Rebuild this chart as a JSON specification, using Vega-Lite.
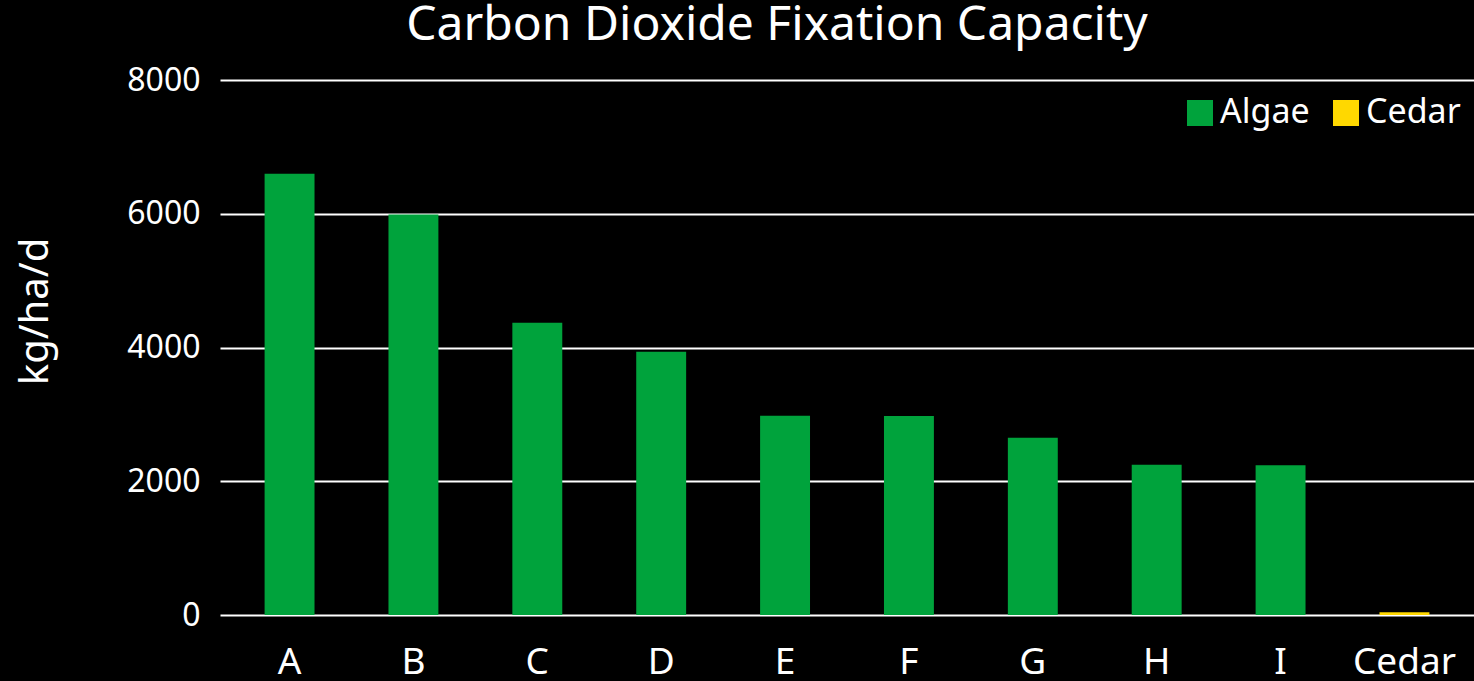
{
  "$schema": "https://vega.github.io/schema/vega-lite/v6.json",
  "width": 1254,
  "height": 535,
  "autosize": {"type": "none"},
  "padding": {"left": 220, "top": 80, "right": 0, "bottom": 66},
  "background": "#000000",
  "title": {
    "text": "Carbon Dioxide Fixation Capacity",
    "font": "Noto Sans",
    "fontSize": 48,
    "fontWeight": "normal",
    "color": "#ffffff",
    "anchor": "middle",
    "frame": "group",
    "dx": -70,
    "offset": 14
  },
  "data": {
    "values": [
      {"name": "A", "type": "Algae", "value": 6600},
      {"name": "B", "type": "Algae", "value": 5990},
      {"name": "C", "type": "Algae", "value": 4370},
      {"name": "D", "type": "Algae", "value": 3935},
      {"name": "E", "type": "Algae", "value": 2980},
      {"name": "F", "type": "Algae", "value": 2975},
      {"name": "G", "type": "Algae", "value": 2650},
      {"name": "H", "type": "Algae", "value": 2245},
      {"name": "I", "type": "Algae", "value": 2240},
      {"name": "Cedar", "type": "Cedar", "value": 40}
    ]
  },
  "mark": {"type": "bar"},
  "encoding": {
    "x": {
      "field": "name",
      "type": "nominal",
      "sort": null,
      "scale": {"paddingInner": 0.597, "paddingOuter": 0.36},
      "axis": {
        "title": null,
        "labelAngle": 0,
        "labelFont": "Noto Sans",
        "labelFontSize": 37,
        "labelColor": "#ffffff",
        "labelPadding": 29,
        "domain": false,
        "ticks": false,
        "grid": false
      }
    },
    "y": {
      "field": "value",
      "type": "quantitative",
      "scale": {"domain": [0, 8000], "nice": false},
      "axis": {
        "title": "kg/ha/d",
        "titleFont": "Noto Sans",
        "titleFontSize": 40,
        "titleFontWeight": "normal",
        "titleColor": "#ffffff",
        "titleAngle": -90,
        "titleAlign": "center",
        "titleBaseline": "middle",
        "titleX": -185,
        "titleY": 231,
        "values": [0, 2000, 4000, 6000, 8000],
        "format": "d",
        "labelFont": "Noto Sans",
        "labelFontSize": 32,
        "labelColor": "#ffffff",
        "labelPadding": 20,
        "domain": false,
        "ticks": false,
        "grid": true,
        "gridColor": "#ffffff",
        "gridWidth": 2,
        "gridOpacity": 1
      }
    },
    "color": {
      "field": "type",
      "type": "nominal",
      "scale": {"domain": ["Algae", "Cedar"], "range": ["#00A33C", "#FFD800"]},
      "legend": {
        "title": null,
        "orient": "none",
        "legendX": 963,
        "legendY": 16,
        "direction": "horizontal",
        "symbolType": "square",
        "symbolSize": 676,
        "symbolStrokeWidth": 0,
        "symbolOpacity": 1,
        "labelFont": "Noto Sans",
        "labelFontSize": 34,
        "labelColor": "#ffffff",
        "labelOffset": 3,
        "columnPadding": 19
      }
    }
  },
  "config": {
    "view": {"stroke": null}
  }
}
